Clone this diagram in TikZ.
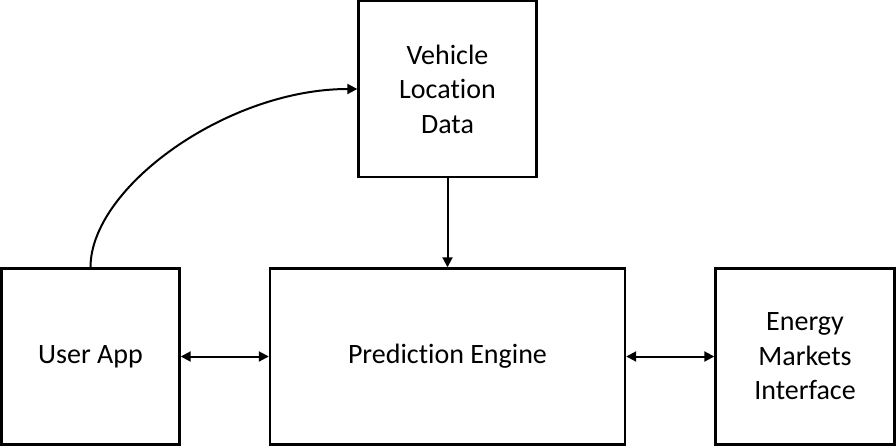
\documentclass[tikz,border=0pt]{standalone}
\usepackage{fontspec}
\setmainfont[Ligatures=NoCommon]{Carlito}
\usetikzlibrary{arrows.meta}
\begin{document}
\begin{tikzpicture}[x=1pt,y=-1pt,
  box/.style={draw,line width=2.4pt,align=center,inner sep=0pt,
    font=\fontsize{28}{34.5}\selectfont},
  conn/.style={line width=2pt,-{Triangle[length=10pt,width=10pt]}},
  dconn/.style={line width=2pt,{Triangle[length=10pt,width=10pt]}-{Triangle[length=10pt,width=10pt]}}]
\useasboundingbox (0,0) rectangle (896,447);
\node[box,minimum width=178pt,minimum height=176pt] (user) at (90.5,356.5) {User App};
\node[box,minimum width=355pt,minimum height=176pt] (pred) at (447.5,356.5) {Prediction Engine};
\node[box,minimum width=178pt,minimum height=176pt] (vld) at (447.5,89) {Vehicle\\Location\\Data};
\node[box,minimum width=179pt,minimum height=176pt] (emi) at (805,356.5) {Energy\\Markets\\Interface};
\draw[conn] (vld.south) -- (pred.north);
\draw[dconn] (user.east) -- (pred.west);
\draw[dconn] (pred.east) -- (emi.west);
\draw[conn] (user.north) .. controls +(0,-80) and +(-130,0) .. (vld.west);
\end{tikzpicture}
\end{document}
